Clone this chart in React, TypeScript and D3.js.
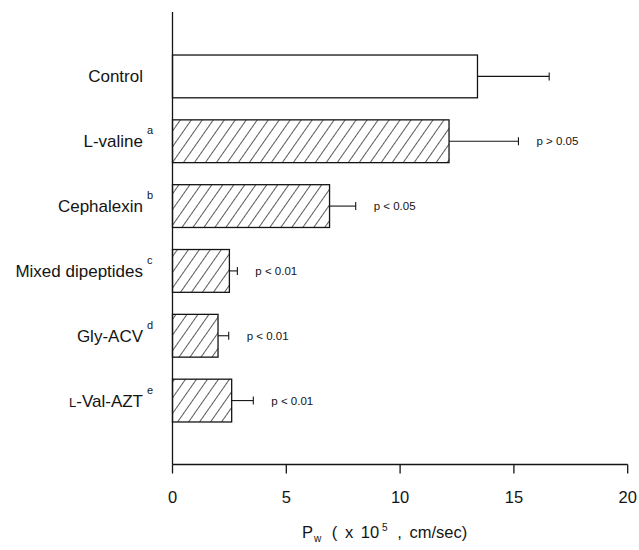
import * as d3 from "d3";

// (units: x 10^-5 cm/sec)
const categories = ["Control", "L-valine", "Cephalexin", "Mixed dipeptides", "Gly-ACV", "L-Val-AZT"];
const superscripts = ["", "a", "b", "c", "d", "e"];
const means = [13.4, 12.15, 6.9, 2.5, 2.0, 2.6];
const errors = [3.15, 3.05, 1.15, 0.35, 0.47, 0.95];
const pLabels = ["", "p > 0.05", "p < 0.05", "p < 0.01", "p < 0.01", "p < 0.01"];
const xTicks = [0, 5, 10, 15, 20];

const W = 639;
const H = 550;
const ink = "#141414";
const font = "'Liberation Sans', Arial, sans-serif";

export default function App() {
  const x = d3.scaleLinear().domain([0, 20]).range([172.5, 627.7]);
  const y = d3
    .scaleBand<string>()
    .domain(categories)
    .range([44, 433])
    .paddingInner(0.34)
    .paddingOuter(0.17);

  const axisY = 464.5;

  return (
    <svg
      width={W}
      height={H}
      style={{ position: "absolute", left: 0, top: 0, background: "#fff" }}
      fontFamily={font}
    >
      <defs>
        <pattern
          id="hatch"
          patternUnits="userSpaceOnUse"
          width={9}
          height={9}
          patternTransform="rotate(35)"
        >
          <line x1={0} y1={0} x2={0} y2={9} stroke={ink} strokeWidth={1.4} />
        </pattern>
      </defs>

      {/* bars */}
      {categories.map((c, i) => {
        const y0 = y(c) || 0;
        const bh = y.bandwidth();
        const cy = y0 + bh / 2;
        const xEnd = x(means[i]);
        const xErr = x(means[i] + errors[i]);
        return (
          <g key={c}>
            <rect
              x={x(0)}
              y={y0}
              width={xEnd - x(0)}
              height={bh}
              fill={i === 0 ? "#fff" : "url(#hatch)"}
              stroke={ink}
              strokeWidth={1.3}
            />
            <line x1={xEnd} x2={xErr} y1={cy} y2={cy} stroke={ink} strokeWidth={1.1} />
            <line x1={xErr} x2={xErr} y1={cy - 4} y2={cy + 4} stroke={ink} strokeWidth={1.1} />
            {pLabels[i] && (
              <text x={xErr + 18} y={cy} dy="0.35em" fontSize={11.5} fill={ink}>
                {pLabels[i]}
              </text>
            )}
            <text x={143} y={cy} dy="0.35em" fontSize={17} textAnchor="end" fill={ink}>
              {c === "L-Val-AZT" ? (
                <>
                  <tspan fontSize={13}>L</tspan>
                  <tspan>-Val-AZT</tspan>
                </>
              ) : (
                c
              )}
            </text>
            {superscripts[i] && (
              <text x={147} y={cy - 7} fontSize={11} fill={ink}>
                {superscripts[i]}
              </text>
            )}
          </g>
        );
      })}

      {/* axes */}
      <line x1={x(0)} x2={x(0)} y1={12} y2={axisY} stroke={ink} strokeWidth={1.3} />
      <line x1={x(0)} x2={x(20)} y1={axisY} y2={axisY} stroke={ink} strokeWidth={1.3} />
      {xTicks.map((t) => (
        <g key={t}>
          <line x1={x(t)} x2={x(t)} y1={axisY} y2={axisY + 9} stroke={ink} strokeWidth={1.3} />
          <text x={x(t)} y={503} fontSize={16.5} textAnchor="middle" fill={ink}>
            {t}
          </text>
        </g>
      ))}

      <text x={302} y={538} fontSize={16.5} fill={ink} wordSpacing={3}>
        <tspan>P</tspan>
        <tspan fontSize={10} dx={1} dy={4}>w</tspan>
        <tspan dx={3} dy={-4}> ( x 10</tspan>
        <tspan fontSize={10} dx={3} dy={-7}>5</tspan>
        <tspan dx={2} dy={7}> , cm/sec)</tspan>
      </text>
    </svg>
  );
}
